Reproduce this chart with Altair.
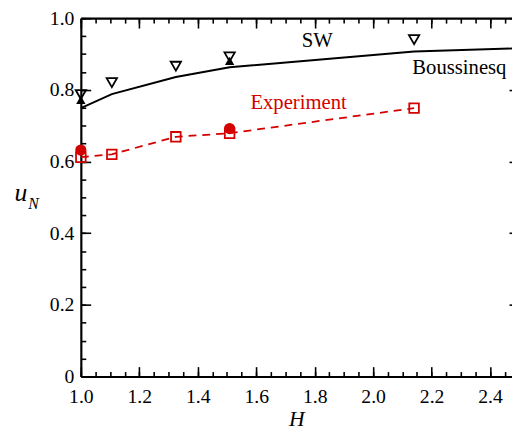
import altair as alt
import pandas as pd

# Boussinesq (solid black line)
H_bous = [1.0, 1.106, 1.325, 1.509, 2.14, 2.5]
u_bous = [0.749, 0.788, 0.836, 0.863, 0.907, 0.916]
# SW (open down triangles)
H_sw = [1.0, 1.106, 1.325, 1.509, 2.14]
u_sw = [0.787, 0.820, 0.866, 0.892, 0.940]
# filled up triangles
H_tri = [1.0, 1.509]
u_tri = [0.772, 0.881]
# Experiment (red open squares, dashed)
H_exp = [1.0, 1.106, 1.325, 1.509, 2.14]
u_exp = [0.612, 0.620, 0.669, 0.679, 0.749]
# red filled circles
H_circ = [1.0, 1.509]
u_circ = [0.632, 0.692]

ann_text = ["SW", "Boussinesq", "Experiment"]
ann_H = [1.809, 2.295, 1.745]
ann_u = [0.935, 0.861, 0.763]
ann_color = ["#000000", "#000000", "#d40000"]

x_major = [1.0, 1.2, 1.4, 1.6, 1.8, 2.0, 2.2, 2.4]
x_minor = [round(1.0 + 0.05 * i, 2) for i in range(30)]
y_major = [0.0, 0.2, 0.4, 0.6, 0.8, 1.0]
y_minor = [round(0.05 * i, 2) for i in range(21)]

RED = "#d40000"
FONT = "Times New Roman, Liberation Serif, DejaVu Serif, serif"

xs = alt.Scale(domain=[1.0, 2.475], nice=False, zero=False)
ys = alt.Scale(domain=[0.0, 1.0], nice=False, zero=False)

df_bous = pd.DataFrame({"H": H_bous, "u": u_bous})
df_sw = pd.DataFrame({"H": H_sw, "u": u_sw})
df_tri = pd.DataFrame({"H": H_tri, "u": u_tri})
df_exp = pd.DataFrame({"H": H_exp, "u": u_exp})
df_circ = pd.DataFrame({"H": H_circ, "u": u_circ})
df_ann = pd.DataFrame({"H": ann_H, "u": ann_u, "t": ann_text, "c": ann_color})


def X(axis):
    return alt.X("H:Q", scale=xs, axis=axis, title=None)


def Y(axis):
    return alt.Y("u:Q", scale=ys, axis=axis, title=None)


def tick_axis(orient, values, size, offset):
    return alt.Axis(orient=orient, values=values, tickSize=size, offset=offset,
                    domain=False, labels=False, ticks=True, grid=False,
                    tickColor="black", tickWidth=1.6)


main_x = alt.Axis(orient="bottom", values=x_major, format=".1f", ticks=False,
                  domain=True, domainColor="black", domainWidth=2.2,
                  labelFont=FONT, labelFontSize=20, labelColor="black",
                  labelPadding=10, labelFlush=False, grid=False, title="H", titleFont=FONT,
                  titleFontSize=22, titleFontStyle="italic", titleFontWeight="normal",
                  titleColor="black", titlePadding=3)
main_y = alt.Axis(orient="left", values=y_major, ticks=False,
                  domain=True, domainColor="black", domainWidth=2.2,
                  labelFont=FONT, labelFontSize=20, labelColor="black",
                  labelPadding=7, labelFlush=False, grid=False,
                  labelExpr="datum.value == 0 ? '0' : format(datum.value, '.1f')")

bous = alt.Chart(df_bous).mark_line(color="black", strokeWidth=2, clip=True).encode(
    X(main_x), Y(main_y))
exp_line = alt.Chart(df_exp).mark_line(color=RED, strokeWidth=1.8, strokeDash=[8, 6]).encode(
    X(None), Y(None))
exp_pts = alt.Chart(df_exp).mark_point(shape="square", size=95, filled=False, color=RED,
                                       strokeWidth=1.8, opacity=1).encode(X(None), Y(None))
circ = alt.Chart(df_circ).mark_point(shape="circle", size=130, filled=True, color=RED,
                                     opacity=1).encode(X(None), Y(None))
sw = alt.Chart(df_sw).mark_point(shape="triangle-down", size=110, filled=False, color="black",
                                 strokeWidth=1.8, opacity=1).encode(X(None), Y(None))
tri = alt.Chart(df_tri).mark_point(shape="triangle-up", size=90, filled=True, color="black",
                                   opacity=1).encode(X(None), Y(None))
ann = alt.Chart(df_ann).mark_text(font=FONT, fontSize=21, align="center", baseline="middle").encode(
    X(None), Y(None), text="t:N", color=alt.Color("c:N", scale=None))

u_lab = alt.Chart(pd.DataFrame({"t": ["u"]})).mark_text(
    font=FONT, fontSize=26, fontStyle="italic", align="center", baseline="middle", color="black"
).encode(text="t:N", x=alt.value(-61), y=alt.value(178))
n_lab = alt.Chart(pd.DataFrame({"t": ["N"]})).mark_text(
    font=FONT, fontSize=16, fontStyle="italic", align="center", baseline="middle", color="black"
).encode(text="t:N", x=alt.value(-48), y=alt.value(189))

ghost = lambda xa, ya: alt.Chart(df_bous).mark_point(opacity=0).encode(X(xa), Y(ya))

t1 = ghost(tick_axis("bottom", x_major, 10, -10), tick_axis("left", y_major, 10, -10))
t2 = ghost(tick_axis("bottom", x_minor, 5, -5), tick_axis("left", y_minor, 5, -5))
t3 = ghost(alt.Axis(orient="top", domain=True, domainColor="black", domainWidth=2.2,
                    ticks=False, labels=False, grid=False),
           tick_axis("right", y_major, 3, -3))
t4 = ghost(tick_axis("top", x_major, 10, -10), None)
t5 = ghost(tick_axis("top", x_minor, 5, -5), None)

chart = alt.layer(
    bous, exp_line, exp_pts, circ, sw, tri, ann, u_lab, n_lab, t1, t2, t3, t4, t5
).resolve_axis(x="independent", y="independent").properties(
    width=438, height=364,
    autosize="none",
    padding={"left": 74, "top": 7, "right": 0, "bottom": 52},
    background="white",
).configure_view(stroke="transparent")

chart.save("out.html", embed_options={"renderer": "svg", "actions": False})
